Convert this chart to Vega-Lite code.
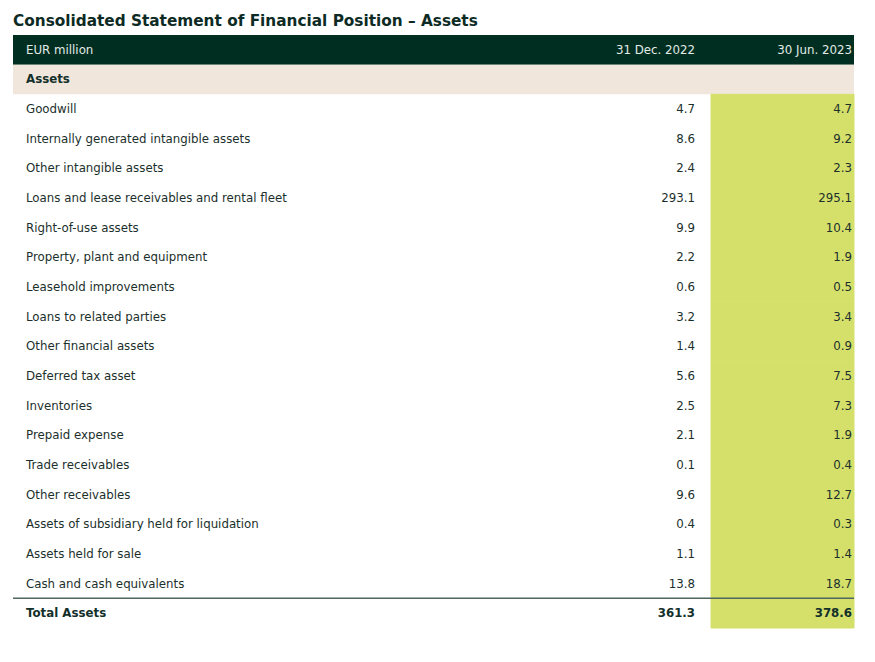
{
  "$schema": "https://vega.github.io/schema/vega-lite/v6.json",
  "width": 841,
  "height": 593,
  "autosize": {"type": "none"},
  "padding": {"left": 13, "top": 35, "right": 21, "bottom": 34},
  "background": "white",
  "title": {
    "text": "Consolidated Statement of Financial Position – Assets",
    "anchor": "start",
    "frame": "group",
    "font": "DejaVu Sans",
    "fontSize": 15.3,
    "fontWeight": "bold",
    "color": "#0d2b24",
    "offset": 6
  },
  "datasets": {
    "header": [{"item": "EUR million", "col1": "31 Dec. 2022", "col2": "30 Jun. 2023"}],
    "section": [{"item": "Assets"}],
    "rows": [
      {"item": "Goodwill", "kind": "item", "v2022": 4.7, "v2023": 4.7},
      {"item": "Internally generated intangible assets", "kind": "item", "v2022": 8.6, "v2023": 9.2},
      {"item": "Other intangible assets", "kind": "item", "v2022": 2.4, "v2023": 2.3},
      {"item": "Loans and lease receivables and rental fleet", "kind": "item", "v2022": 293.1, "v2023": 295.1},
      {"item": "Right-of-use assets", "kind": "item", "v2022": 9.9, "v2023": 10.4},
      {"item": "Property, plant and equipment", "kind": "item", "v2022": 2.2, "v2023": 1.9},
      {"item": "Leasehold improvements", "kind": "item", "v2022": 0.6, "v2023": 0.5},
      {"item": "Loans to related parties", "kind": "item", "v2022": 3.2, "v2023": 3.4},
      {"item": "Other financial assets", "kind": "item", "v2022": 1.4, "v2023": 0.9},
      {"item": "Deferred tax asset", "kind": "item", "v2022": 5.6, "v2023": 7.5},
      {"item": "Inventories", "kind": "item", "v2022": 2.5, "v2023": 7.3},
      {"item": "Prepaid expense", "kind": "item", "v2022": 2.1, "v2023": 1.9},
      {"item": "Trade receivables", "kind": "item", "v2022": 0.1, "v2023": 0.4},
      {"item": "Other receivables", "kind": "item", "v2022": 9.6, "v2023": 12.7},
      {"item": "Assets of subsidiary held for liquidation", "kind": "item", "v2022": 0.4, "v2023": 0.3},
      {"item": "Assets held for sale", "kind": "item", "v2022": 1.1, "v2023": 1.4},
      {"item": "Cash and cash equivalents", "kind": "item", "v2022": 13.8, "v2023": 18.7},
      {"item": "Total Assets", "kind": "total", "v2022": 361.3, "v2023": 378.6}
    ]
  },
  "config": {
    "view": {"stroke": null},
    "axis": {"disable": true},
    "text": {"font": "DejaVu Sans", "fontSize": 11.8}
  },
  "layer": [
    {
      "data": {"name": "header"},
      "mark": {"type": "rect", "fill": "#002f22"},
      "encoding": {
        "y": {"field": "item", "type": "nominal", "axis": null,
          "scale": {"type": "band", "paddingInner": 0, "paddingOuter": 0,
            "domain": ["EUR million", "Assets", "Goodwill", "Internally generated intangible assets", "Other intangible assets", "Loans and lease receivables and rental fleet", "Right-of-use assets", "Property, plant and equipment", "Leasehold improvements", "Loans to related parties", "Other financial assets", "Deferred tax asset", "Inventories", "Prepaid expense", "Trade receivables", "Other receivables", "Assets of subsidiary held for liquidation", "Assets held for sale", "Cash and cash equivalents", "Total Assets"]}},
        "x": {"datum": 0, "type": "quantitative", "axis": null, "scale": {"domain": [0, 100], "nice": false, "zero": false}},
        "x2": {"datum": 100}
      }
    },
    {
      "data": {"name": "section"},
      "mark": {"type": "rect", "fill": "#f1e6dc"},
      "encoding": {
        "y": {"field": "item", "type": "nominal"},
        "x": {"datum": 0, "type": "quantitative"},
        "x2": {"datum": 100}
      }
    },
    {
      "data": {"name": "rows"},
      "mark": {"type": "rect", "fill": "#d5e06b", "stroke": "#d5e06b", "strokeWidth": 1},
      "encoding": {
        "y": {"field": "item", "type": "nominal"},
        "x": {"datum": 83, "type": "quantitative"},
        "x2": {"datum": 100}
      }
    },
    {
      "data": {"name": "rows"},
      "transform": [{"filter": "datum.kind === 'total'"}],
      "mark": {"type": "rule", "stroke": "#4f6661", "strokeWidth": 1.5},
      "encoding": {
        "y": {"field": "item", "type": "nominal", "bandPosition": 0},
        "x": {"datum": 0, "type": "quantitative"},
        "x2": {"datum": 100}
      }
    },
    {
      "data": {"name": "header"},
      "mark": {"type": "text", "align": "left", "dx": 13, "color": "#e3ebe7"},
      "encoding": {
        "y": {"field": "item", "type": "nominal"},
        "x": {"datum": 0, "type": "quantitative"},
        "text": {"field": "item"}
      }
    },
    {
      "data": {"name": "header"},
      "mark": {"type": "text", "align": "right", "color": "#e3ebe7"},
      "encoding": {
        "y": {"field": "item", "type": "nominal"},
        "x": {"datum": 81.1, "type": "quantitative"},
        "text": {"field": "col1"}
      }
    },
    {
      "data": {"name": "header"},
      "mark": {"type": "text", "align": "right", "dx": -2, "color": "#e3ebe7"},
      "encoding": {
        "y": {"field": "item", "type": "nominal"},
        "x": {"datum": 100, "type": "quantitative"},
        "text": {"field": "col2"}
      }
    },
    {
      "data": {"name": "section"},
      "mark": {"type": "text", "align": "left", "dx": 13, "fontWeight": "bold", "color": "#13302a"},
      "encoding": {
        "y": {"field": "item", "type": "nominal"},
        "x": {"datum": 0, "type": "quantitative"},
        "text": {"field": "item"}
      }
    },
    {
      "data": {"name": "rows"},
      "transform": [{"filter": "datum.kind === 'item'"}],
      "mark": {"type": "text", "align": "left", "dx": 13, "color": "#1b2f2b"},
      "encoding": {
        "y": {"field": "item", "type": "nominal"},
        "x": {"datum": 0, "type": "quantitative"},
        "text": {"field": "item"}
      }
    },
    {
      "data": {"name": "rows"},
      "transform": [{"filter": "datum.kind === 'item'"}],
      "mark": {"type": "text", "align": "right", "color": "#1b2f2b"},
      "encoding": {
        "y": {"field": "item", "type": "nominal"},
        "x": {"datum": 81.1, "type": "quantitative"},
        "text": {"field": "v2022", "type": "quantitative", "format": ".1f"}
      }
    },
    {
      "data": {"name": "rows"},
      "transform": [{"filter": "datum.kind === 'item'"}],
      "mark": {"type": "text", "align": "right", "dx": -2, "color": "#1b2f2b"},
      "encoding": {
        "y": {"field": "item", "type": "nominal"},
        "x": {"datum": 100, "type": "quantitative"},
        "text": {"field": "v2023", "type": "quantitative", "format": ".1f"}
      }
    },
    {
      "data": {"name": "rows"},
      "transform": [{"filter": "datum.kind === 'total'"}],
      "mark": {"type": "text", "align": "left", "dx": 13, "fontWeight": "bold", "color": "#13302a"},
      "encoding": {
        "y": {"field": "item", "type": "nominal"},
        "x": {"datum": 0, "type": "quantitative"},
        "text": {"field": "item"}
      }
    },
    {
      "data": {"name": "rows"},
      "transform": [{"filter": "datum.kind === 'total'"}],
      "mark": {"type": "text", "align": "right", "fontWeight": "bold", "color": "#13302a"},
      "encoding": {
        "y": {"field": "item", "type": "nominal"},
        "x": {"datum": 81.1, "type": "quantitative"},
        "text": {"field": "v2022", "type": "quantitative", "format": ".1f"}
      }
    },
    {
      "data": {"name": "rows"},
      "transform": [{"filter": "datum.kind === 'total'"}],
      "mark": {"type": "text", "align": "right", "dx": -2, "fontWeight": "bold", "color": "#13302a"},
      "encoding": {
        "y": {"field": "item", "type": "nominal"},
        "x": {"datum": 100, "type": "quantitative"},
        "text": {"field": "v2023", "type": "quantitative", "format": ".1f"}
      }
    }
  ]
}
